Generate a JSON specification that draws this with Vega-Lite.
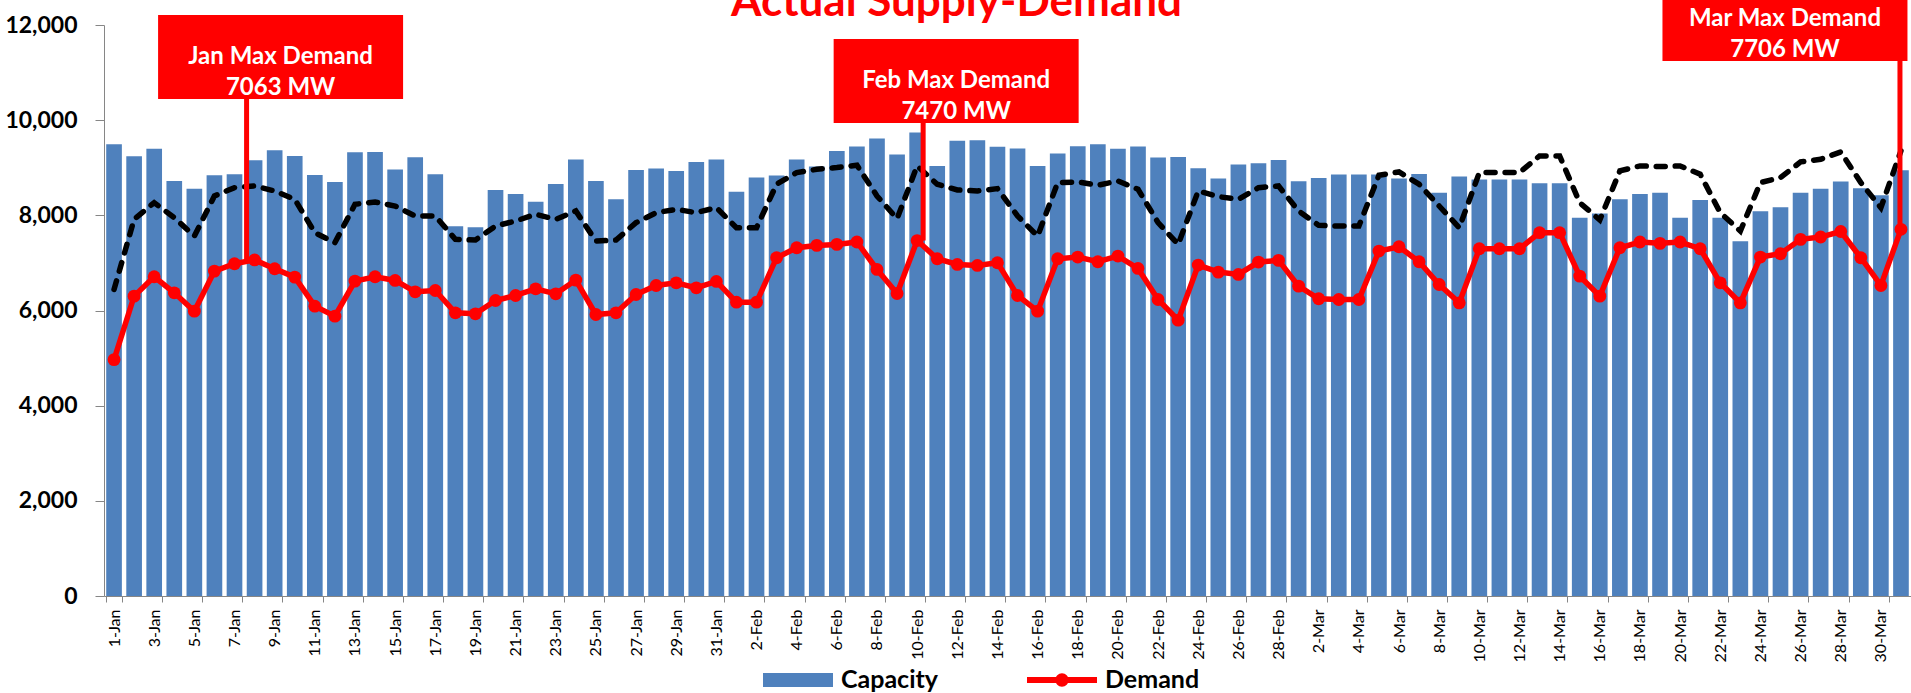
{
  "$schema": "https://vega.github.io/schema/vega-lite/v6.json",
  "width": 1807,
  "height": 571,
  "autosize": {"type": "none"},
  "padding": {"left": 104, "top": 25, "right": 0, "bottom": 97},
  "background": "white",
  "title": {"text": "Actual Supply-Demand", "anchor": "middle", "frame": "group", "dx": -51, "offset": -48, "fontSize": 44, "font": "Lato", "fontWeight": "bold", "color": "#FF0000"},
  "config": {"view": {"stroke": null}},
  "data": {"values": [
    {"date": "1-Jan", "capacity": 9495, "demand": 4968, "requirement": 6442},
    {"date": "2-Jan", "capacity": 9242, "demand": 6302, "requirement": 7916},
    {"date": "3-Jan", "capacity": 9397, "demand": 6709, "requirement": 8267},
    {"date": "4-Jan", "capacity": 8723, "demand": 6372, "requirement": 7951},
    {"date": "5-Jan", "capacity": 8561, "demand": 5986, "requirement": 7565},
    {"date": "6-Jan", "capacity": 8842, "demand": 6828, "requirement": 8407},
    {"date": "7-Jan", "capacity": 8863, "demand": 6982, "requirement": 8582},
    {"date": "8-Jan", "capacity": 9158, "demand": 7063, "requirement": 8617},
    {"date": "9-Jan", "capacity": 9368, "demand": 6877, "requirement": 8512},
    {"date": "10-Jan", "capacity": 9249, "demand": 6702, "requirement": 8337},
    {"date": "11-Jan", "capacity": 8849, "demand": 6091, "requirement": 7635},
    {"date": "12-Jan", "capacity": 8702, "demand": 5881, "requirement": 7425},
    {"date": "13-Jan", "capacity": 9326, "demand": 6618, "requirement": 8232},
    {"date": "14-Jan", "capacity": 9333, "demand": 6709, "requirement": 8281},
    {"date": "15-Jan", "capacity": 8961, "demand": 6632, "requirement": 8196},
    {"date": "16-Jan", "capacity": 9221, "demand": 6393, "requirement": 7986},
    {"date": "17-Jan", "capacity": 8863, "demand": 6421, "requirement": 7986},
    {"date": "18-Jan", "capacity": 7768, "demand": 5951, "requirement": 7495},
    {"date": "19-Jan", "capacity": 7747, "demand": 5930, "requirement": 7481},
    {"date": "20-Jan", "capacity": 8533, "demand": 6211, "requirement": 7775},
    {"date": "21-Jan", "capacity": 8449, "demand": 6316, "requirement": 7881},
    {"date": "22-Jan", "capacity": 8288, "demand": 6456, "requirement": 8021},
    {"date": "23-Jan", "capacity": 8660, "demand": 6351, "requirement": 7916},
    {"date": "24-Jan", "capacity": 9172, "demand": 6639, "requirement": 8091},
    {"date": "25-Jan", "capacity": 8723, "demand": 5916, "requirement": 7460},
    {"date": "26-Jan", "capacity": 8337, "demand": 5951, "requirement": 7481},
    {"date": "27-Jan", "capacity": 8954, "demand": 6337, "requirement": 7846},
    {"date": "28-Jan", "capacity": 8982, "demand": 6526, "requirement": 8056},
    {"date": "29-Jan", "capacity": 8933, "demand": 6582, "requirement": 8126},
    {"date": "30-Jan", "capacity": 9123, "demand": 6477, "requirement": 8056},
    {"date": "31-Jan", "capacity": 9172, "demand": 6611, "requirement": 8161},
    {"date": "1-Feb", "capacity": 8498, "demand": 6175, "requirement": 7740},
    {"date": "2-Feb", "capacity": 8793, "demand": 6175, "requirement": 7740},
    {"date": "3-Feb", "capacity": 8835, "demand": 7109, "requirement": 8653},
    {"date": "4-Feb", "capacity": 9172, "demand": 7319, "requirement": 8898},
    {"date": "5-Feb", "capacity": 9025, "demand": 7368, "requirement": 8968},
    {"date": "6-Feb", "capacity": 9354, "demand": 7389, "requirement": 9004},
    {"date": "7-Feb", "capacity": 9446, "demand": 7440, "requirement": 9053},
    {"date": "8-Feb", "capacity": 9614, "demand": 6863, "requirement": 8407},
    {"date": "9-Feb", "capacity": 9277, "demand": 6358, "requirement": 7930},
    {"date": "10-Feb", "capacity": 9740, "demand": 7470, "requirement": 9039},
    {"date": "11-Feb", "capacity": 9039, "demand": 7088, "requirement": 8653},
    {"date": "12-Feb", "capacity": 9565, "demand": 6968, "requirement": 8533},
    {"date": "13-Feb", "capacity": 9579, "demand": 6947, "requirement": 8512},
    {"date": "14-Feb", "capacity": 9439, "demand": 7004, "requirement": 8561},
    {"date": "15-Feb", "capacity": 9404, "demand": 6316, "requirement": 7986},
    {"date": "16-Feb", "capacity": 9039, "demand": 5986, "requirement": 7565},
    {"date": "17-Feb", "capacity": 9298, "demand": 7088, "requirement": 8688},
    {"date": "18-Feb", "capacity": 9453, "demand": 7123, "requirement": 8702},
    {"date": "19-Feb", "capacity": 9495, "demand": 7025, "requirement": 8632},
    {"date": "20-Feb", "capacity": 9397, "demand": 7144, "requirement": 8723},
    {"date": "21-Feb", "capacity": 9446, "demand": 6884, "requirement": 8547},
    {"date": "22-Feb", "capacity": 9214, "demand": 6232, "requirement": 7846},
    {"date": "23-Feb", "capacity": 9228, "demand": 5797, "requirement": 7389},
    {"date": "24-Feb", "capacity": 8989, "demand": 6955, "requirement": 8512},
    {"date": "25-Feb", "capacity": 8772, "demand": 6807, "requirement": 8393},
    {"date": "26-Feb", "capacity": 9067, "demand": 6758, "requirement": 8337},
    {"date": "27-Feb", "capacity": 9095, "demand": 7018, "requirement": 8582},
    {"date": "28-Feb", "capacity": 9165, "demand": 7053, "requirement": 8617},
    {"date": "1-Mar", "capacity": 8716, "demand": 6512, "requirement": 8091},
    {"date": "2-Mar", "capacity": 8786, "demand": 6246, "requirement": 7789},
    {"date": "3-Mar", "capacity": 8856, "demand": 6232, "requirement": 7775},
    {"date": "4-Mar", "capacity": 8856, "demand": 6232, "requirement": 7775},
    {"date": "5-Mar", "capacity": 8856, "demand": 7249, "requirement": 8842},
    {"date": "6-Mar", "capacity": 8772, "demand": 7340, "requirement": 8912},
    {"date": "7-Mar", "capacity": 8870, "demand": 7025, "requirement": 8653},
    {"date": "8-Mar", "capacity": 8477, "demand": 6547, "requirement": 8196},
    {"date": "9-Mar", "capacity": 8814, "demand": 6161, "requirement": 7740},
    {"date": "10-Mar", "capacity": 8751, "demand": 7298, "requirement": 8898},
    {"date": "11-Mar", "capacity": 8751, "demand": 7298, "requirement": 8898},
    {"date": "12-Mar", "capacity": 8751, "demand": 7298, "requirement": 8898},
    {"date": "13-Mar", "capacity": 8674, "demand": 7635, "requirement": 9249},
    {"date": "14-Mar", "capacity": 8674, "demand": 7635, "requirement": 9249},
    {"date": "15-Mar", "capacity": 7951, "demand": 6723, "requirement": 8267},
    {"date": "16-Mar", "capacity": 8040, "demand": 6302, "requirement": 7902},
    {"date": "17-Mar", "capacity": 8337, "demand": 7319, "requirement": 8933},
    {"date": "18-Mar", "capacity": 8449, "demand": 7439, "requirement": 9039},
    {"date": "19-Mar", "capacity": 8477, "demand": 7411, "requirement": 9025},
    {"date": "20-Mar", "capacity": 7951, "demand": 7439, "requirement": 9039},
    {"date": "21-Mar", "capacity": 8323, "demand": 7298, "requirement": 8863},
    {"date": "22-Mar", "capacity": 7951, "demand": 6582, "requirement": 8056},
    {"date": "23-Mar", "capacity": 7453, "demand": 6161, "requirement": 7670},
    {"date": "24-Mar", "capacity": 8084, "demand": 7123, "requirement": 8688},
    {"date": "25-Mar", "capacity": 8168, "demand": 7193, "requirement": 8793},
    {"date": "26-Mar", "capacity": 8477, "demand": 7495, "requirement": 9123},
    {"date": "27-Mar", "capacity": 8561, "demand": 7544, "requirement": 9179},
    {"date": "28-Mar", "capacity": 8709, "demand": 7660, "requirement": 9333},
    {"date": "29-Mar", "capacity": 8568, "demand": 7109, "requirement": 8688},
    {"date": "30-Mar", "capacity": 8421, "demand": 6526, "requirement": 8161},
    {"date": "31-Mar", "capacity": 8947, "demand": 7706, "requirement": 9354}
  ]},
  "encoding": {
    "x": {
      "field": "date", "type": "nominal", "sort": null,
      "scale": {"paddingInner": 0.22, "paddingOuter": 0.11},
      "axis": {
        "title": null,
        "values": ["1-Jan","3-Jan","5-Jan","7-Jan","9-Jan","11-Jan","13-Jan","15-Jan","17-Jan","19-Jan","21-Jan","23-Jan","25-Jan","27-Jan","29-Jan","31-Jan","2-Feb","4-Feb","6-Feb","8-Feb","10-Feb","12-Feb","14-Feb","16-Feb","18-Feb","20-Feb","22-Feb","24-Feb","26-Feb","28-Feb","2-Mar","4-Mar","6-Mar","8-Mar","10-Mar","12-Mar","14-Mar","16-Mar","18-Mar","20-Mar","22-Mar","24-Mar","26-Mar","28-Mar","30-Mar"],
        "labelAngle": 270, "labelFont": "Lato", "labelFontSize": 16, "labelColor": "black",
        "labelOverlap": false, "tickBand": "extent", "tickSize": 6, "labelPadding": 7,
        "domainColor": "#868686", "tickColor": "#868686", "grid": false
      }
    }
  },
  "layer": [
    {
      "mark": {"type": "bar"},
      "encoding": {
        "y": {
          "field": "capacity", "type": "quantitative", "title": null,
          "scale": {"domain": [0, 12000], "nice": false},
          "axis": {
            "values": [0, 2000, 4000, 6000, 8000, 10000, 12000], "format": ",.0f",
            "labelFont": "Lato", "labelFontSize": 23, "labelFontWeight": "bold", "labelColor": "black",
            "tickColor": "#868686", "domainColor": "#868686", "tickSize": 9, "labelPadding": 18, "grid": false
          }
        },
        "color": {
          "datum": "Capacity",
          "scale": {"domain": ["Capacity", "Demand"], "range": ["#4F81BD", "#FF0000"]},
          "legend": {
            "title": null, "orient": "none", "legendX": 659, "legendY": 620, "direction": "horizontal",
            "padding": 0, "symbolSize": 4900, "labelOffset": 8, "columnPadding": 88, "labelLimit": 400,
            "labelFont": "Lato", "labelFontSize": 25, "labelFontWeight": "bold", "labelColor": "black",
            "encode": {
              "symbols": {"update": {
                "shape": {"signal": "datum.value === 'Capacity' ? 'M-1,-0.2H1V0.2H-1Z' : 'M-1,-0.085H1V0.085H-1Z M0.19,0A0.19,0.19 0 1,1 -0.19,0A0.19,0.19 0 1,1 0.19,0Z'"},
                "fill": {"scale": "color", "field": "value"},
                "stroke": {"value": "transparent"},
                "strokeWidth": {"value": 0},
                "opacity": {"value": 1},
                "size": {"value": 4900}
              }}
            }
          }
        }
      }
    },
    {
      "mark": {"type": "line", "color": "black", "strokeWidth": 5.5, "strokeDash": [9, 10], "strokeCap": "round"},
      "encoding": {"y": {"field": "requirement", "type": "quantitative", "title": null}}
    },
    {
      "mark": {"type": "line", "strokeWidth": 5.5},
      "encoding": {
        "y": {"field": "demand", "type": "quantitative", "title": null},
        "color": {"datum": "Demand"}
      }
    },
    {
      "mark": {"type": "point", "filled": true, "opacity": 1, "size": 165, "shape": "circle"},
      "encoding": {
        "y": {"field": "demand", "type": "quantitative", "title": null},
        "color": {"datum": "Demand"}
      }
    },
    {
      "transform": [
        {"calculate": "split(datum.date, '-')[1]", "as": "month"},
        {"joinaggregate": [{"op": "max", "field": "demand", "as": "month_max"}], "groupby": ["month"]},
        {"filter": "datum.demand === datum.month_max && datum.month === 'Jan'"},
        {"calculate": "[datum.month + ' Max Demand', format(datum.demand, 'd') + ' MW']", "as": "label"}
      ],
      "layer": [
        {"mark": {"type": "rule", "color": "#FF0000", "strokeWidth": 5, "xOffset": -8},
         "encoding": {"y": {"field": "demand", "type": "quantitative", "title": null}, "y2": {"datum": 11329}}},
        {"mark": {"type": "point", "shape": "M-1,-0.343H1V0.343H-1Z", "filled": true, "color": "#FF0000", "opacity": 1, "strokeWidth": 0, "size": 60025, "xOffset": 26},
         "encoding": {"y": {"datum": 11329, "type": "quantitative", "title": null}}},
        {"mark": {"type": "text", "color": "white", "font": "Lato", "fontWeight": "bold", "fontSize": 24, "lineHeight": 31, "align": "center", "baseline": "middle", "xOffset": 26},
         "encoding": {"y": {"datum": 11329, "type": "quantitative", "title": null}, "text": {"field": "label"}}}
      ]
    },
    {
      "transform": [
        {"calculate": "split(datum.date, '-')[1]", "as": "month"},
        {"joinaggregate": [{"op": "max", "field": "demand", "as": "month_max"}], "groupby": ["month"]},
        {"filter": "datum.demand === datum.month_max && datum.month === 'Feb'"},
        {"calculate": "[datum.month + ' Max Demand', format(datum.demand, 'd') + ' MW']", "as": "label"}
      ],
      "layer": [
        {"mark": {"type": "rule", "color": "#FF0000", "strokeWidth": 5, "xOffset": 6},
         "encoding": {"y": {"field": "demand", "type": "quantitative", "title": null}, "y2": {"datum": 10821}}},
        {"mark": {"type": "point", "shape": "M-1,-0.343H1V0.343H-1Z", "filled": true, "color": "#FF0000", "opacity": 1, "strokeWidth": 0, "size": 60025, "xOffset": 39},
         "encoding": {"y": {"datum": 10821, "type": "quantitative", "title": null}}},
        {"mark": {"type": "text", "color": "white", "font": "Lato", "fontWeight": "bold", "fontSize": 24, "lineHeight": 31, "align": "center", "baseline": "middle", "xOffset": 39},
         "encoding": {"y": {"datum": 10821, "type": "quantitative", "title": null}, "text": {"field": "label"}}}
      ]
    },
    {
      "transform": [
        {"calculate": "split(datum.date, '-')[1]", "as": "month"},
        {"joinaggregate": [{"op": "max", "field": "demand", "as": "month_max"}], "groupby": ["month"]},
        {"filter": "datum.demand === datum.month_max && datum.month === 'Mar'"},
        {"calculate": "[datum.month + ' Max Demand', format(datum.demand, 'd') + ' MW']", "as": "label"}
      ],
      "layer": [
        {"mark": {"type": "rule", "color": "#FF0000", "strokeWidth": 5, "xOffset": -1},
         "encoding": {"y": {"field": "demand", "type": "quantitative", "title": null}, "y2": {"datum": 12126}}},
        {"mark": {"type": "point", "shape": "M-1,-0.343H1V0.343H-1Z", "filled": true, "color": "#FF0000", "opacity": 1, "strokeWidth": 0, "size": 60025, "xOffset": -116},
         "encoding": {"y": {"datum": 12126, "type": "quantitative", "title": null}}},
        {"mark": {"type": "text", "color": "white", "font": "Lato", "fontWeight": "bold", "fontSize": 24, "lineHeight": 31, "align": "center", "baseline": "middle", "xOffset": -116},
         "encoding": {"y": {"datum": 12126, "type": "quantitative", "title": null}, "text": {"field": "label"}}}
      ]
    }
  ]
}
